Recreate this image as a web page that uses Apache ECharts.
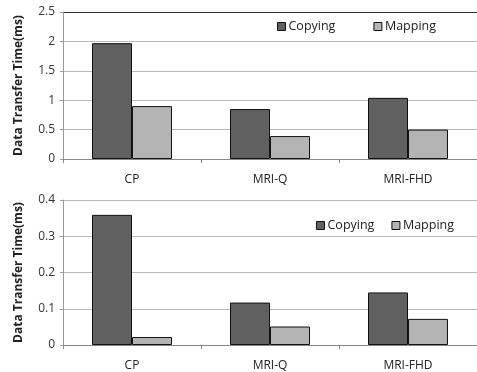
<!DOCTYPE html>
<html>
<head>
<meta charset="utf-8">
<script src="https://cdn.jsdelivr.net/npm/echarts@6/dist/echarts.min.js"></script>
<style>
  html, body { margin: 0; padding: 0; background: #fff; }
  #chart { width: 477px; height: 372px; }
</style>
</head>
<body>
<div id="chart"></div>
<script>
// Benchmarks on the x axis (shared by both panels)
const categories = ['CP', 'MRI-Q', 'MRI-FHD'];

// Upper panel: transfer time (ms)
const topCopying = [1.97, 0.85, 1.04];
const topMapping = [0.90, 0.39, 0.50];
const topTicks = { min: 0, max: 2.5, interval: 0.5 };

// Lower panel: transfer time (ms)
const bottomCopying = [0.359, 0.117, 0.145];
const bottomMapping = [0.022, 0.051, 0.072];
const bottomTicks = { min: 0, max: 0.4, interval: 0.1 };

const yTitle = 'Data Transfer Time(ms)';
const font = '"Open Sans", "Liberation Sans", sans-serif';
const copyColor = '#606060';
const mapColor = '#b4b4b4';

function yAxisFor(gridIndex, ticks) {
  return {
    type: 'value', gridIndex,
    min: ticks.min, max: ticks.max, interval: ticks.interval,
    name: yTitle, nameLocation: 'middle', nameGap: 38,
    nameTextStyle: { fontFamily: font, fontWeight: 'bold', fontSize: 12, color: '#222' },
    axisLine: { show: true, lineStyle: { color: '#999', width: 1 } },
    axisTick: { show: true, length: 3, lineStyle: { color: '#999' } },
    axisLabel: { fontFamily: font, fontSize: 12, color: '#333', margin: 8 },
    splitLine: { show: true, lineStyle: { color: ['#b8b8b8', '#b8b8b8', '#b8b8b8', '#b8b8b8', '#b8b8b8', '#333'], width: 1 } }
  };
}

function xAxisFor(gridIndex) {
  return {
    type: 'category', gridIndex, data: categories,
    axisLine: { show: true, lineStyle: { color: '#888', width: 1 } },
    axisTick: { show: true, length: 4, alignWithLabel: false, lineStyle: { color: '#888' } },
    axisLabel: { fontFamily: font, fontSize: 12, color: '#222', margin: 15 }
  };
}

function barSeries(name, data, color, axisIdx) {
  return {
    name, type: 'bar', data,
    xAxisIndex: axisIdx, yAxisIndex: axisIdx,
    barWidth: 40, barGap: '0%',
    itemStyle: { color, borderColor: '#111', borderWidth: 1 },
    emphasis: { disabled: true }
  };
}

const legendText = { fontFamily: font, fontSize: 12.5, color: '#222', padding: [0, 0, 0, -2] };

const chart = echarts.init(document.getElementById('chart'), null, { renderer: 'canvas' });
chart.setOption({
  animation: false,
  backgroundColor: '#fff',
  grid: [
    { left: 63, top: 12, width: 421, height: 147 },
    { left: 63, top: 200, width: 421, height: 148 }
  ],
  legend: [
    {
      data: ['Copying', 'Mapping'], left: 277, top: 20, padding: 0,
      itemWidth: 8, itemHeight: 8, itemGap: 38,
      icon: 'rect',
      itemStyle: { borderColor: '#111', borderWidth: 1 },
      textStyle: legendText
    },
    {
      data: [{ name: 'Copying ' }, { name: 'Mapping ' }], left: 316, top: 219, padding: 0,
      itemWidth: 8, itemHeight: 8, itemGap: 17,
      icon: 'rect',
      itemStyle: { borderColor: '#111', borderWidth: 1 },
      textStyle: legendText,
      formatter: n => n.trim()
    }
  ],
  xAxis: [xAxisFor(0), xAxisFor(1)],
  yAxis: [yAxisFor(0, topTicks), yAxisFor(1, bottomTicks)],
  series: [
    barSeries('Copying', topCopying, copyColor, 0),
    barSeries('Mapping', topMapping, mapColor, 0),
    barSeries('Copying ', bottomCopying, copyColor, 1),
    barSeries('Mapping ', bottomMapping, mapColor, 1)
  ]
});
</script>
</body>
</html>
